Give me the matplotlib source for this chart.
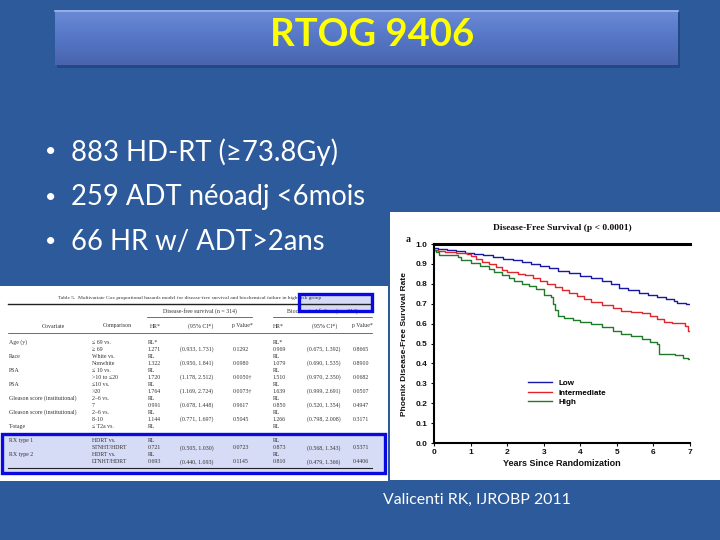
import numpy as np
import matplotlib
matplotlib.use("Agg")
import matplotlib.pyplot as plt
from matplotlib.patches import Rectangle
from matplotlib.colors import LinearSegmentedColormap

# ---------------- data ----------------
title_text = "RTOG 9406"
bullets = ["883 HD-RT (≥73.8Gy)", "259 ADT néoadj <6mois", "66 HR w/ ADT>2ans"]
citation = "Valicenti RK, IJROBP 2011"

chart_title = "Disease-Free Survival (p < 0.0001)"
groups = ["Low", "Intermediate", "High"]

low_t = [0, 0.1, 0.35, 0.6, 0.85, 1.1, 1.35, 1.6, 1.9, 2.15, 2.4, 2.65, 2.9, 3.15, 3.4, 3.7,
         4.0, 4.3, 4.6, 4.85, 5.05, 5.3, 5.6, 5.85, 6.1, 6.35, 6.55, 6.65, 6.9, 7.0]
low_s = [0.98, 0.975, 0.97, 0.965, 0.955, 0.95, 0.945, 0.935, 0.925, 0.92, 0.91, 0.90, 0.89,
         0.88, 0.865, 0.855, 0.84, 0.83, 0.815, 0.80, 0.78, 0.77, 0.755, 0.745, 0.735, 0.725,
         0.715, 0.705, 0.70, 0.70]

int_t = [0, 0.1, 0.3, 0.6, 0.9, 1.0, 1.15, 1.3, 1.5, 1.7, 1.85, 2.0, 2.3, 2.5, 2.7, 2.9, 3.1,
         3.3, 3.5, 3.7, 3.9, 4.1, 4.3, 4.6, 4.9, 5.1, 5.4, 5.7, 5.9, 6.1, 6.3, 6.5, 6.85, 6.95, 7.0]
int_s = [0.97, 0.965, 0.96, 0.955, 0.95, 0.94, 0.925, 0.91, 0.90, 0.885, 0.87, 0.86, 0.85,
         0.845, 0.83, 0.815, 0.80, 0.785, 0.77, 0.755, 0.74, 0.725, 0.71, 0.695, 0.68, 0.665,
         0.66, 0.655, 0.64, 0.625, 0.61, 0.605, 0.59, 0.565, 0.565]

high_t = [0, 0.05, 0.15, 0.65, 0.75, 1.0, 1.25, 1.5, 1.65, 1.85, 2.05, 2.2, 2.4, 2.6, 2.8, 3.0,
          3.2, 3.25, 3.3, 3.4, 3.55, 3.8, 4.0, 4.3, 4.6, 4.9, 5.1, 5.4, 5.7, 5.9, 6.1, 6.15,
          6.6, 6.8, 6.95, 7.0]
high_s = [0.97, 0.96, 0.945, 0.935, 0.92, 0.905, 0.89, 0.875, 0.86, 0.845, 0.83, 0.815, 0.80,
          0.79, 0.775, 0.745, 0.735, 0.70, 0.67, 0.64, 0.63, 0.62, 0.61, 0.60, 0.585, 0.565,
          0.55, 0.54, 0.525, 0.51, 0.495, 0.445, 0.44, 0.425, 0.42, 0.42]

x_ticks = [0, 1, 2, 3, 4, 5, 6, 7]
y_ticks = [0.0, 0.1, 0.2, 0.3, 0.4, 0.5, 0.6, 0.7, 0.8, 0.9, 1.0]

# table
tbl_title = ("Table 5.  Multivariate Cox proportional hazards model for disease-free survival "
             "and biochemical failure in high-risk group")
tbl_groups = ["Disease-free survival (n = 314)", "Biochemical failure (n = 314)"]
tbl_headers = ["Covariate", "Comparison", "HR*", "(95% CI*)", "p Value*", "HR*", "(95% CI*)", "p Value*"]
covariate = ["Age (y)", "", "Race", "", "PSA", "", "PSA", "", "Gleason score (institutional)", "",
             "Gleason score (institutional)", "", "T-stage", "", "RX type 1", "", "RX type 2", ""]
comparison = ["≤ 69 vs.", "≥ 69", "White vs.", "Nonwhite", "≤ 10 vs.", ">10 to ≤20", "≤10 vs.",
              ">20", "2–6 vs.", "7", "2–6 vs.", "8–10", "≤ T2a vs.", "", "HDRT vs.",
              "STNHT/HDRT", "HDRT vs.", "LTNHT/HDRT"]
hr_dfs = ["RL*", "1.271", "RL", "1.322", "RL", "1.720", "RL", "1.764", "RL", "0.991", "RL",
          "1.144", "RL", "", "RL", "0.721", "RL", "0.693"]
ci_dfs = ["", "(0.933, 1.731)", "", "(0.950, 1.841)", "", "(1.178, 2.512)", "", "(1.169, 2.724)",
          "", "(0.678, 1.448)", "", "(0.771, 1.697)", "", "", "", "(0.505, 1.030)", "",
          "(0.440, 1.093)"]
p_dfs = ["", "0.1292", "", "0.0980", "", "0.0050†", "", "0.0073†", "", "0.9617", "", "0.5045",
         "", "", "", "0.0723", "", "0.1145"]
hr_bf = ["RL*", "0.969", "RL", "1.079", "RL", "1.510", "RL", "1.639", "RL", "0.850", "RL",
         "1.266", "RL", "", "RL", "0.873", "RL", "0.810"]
ci_bf = ["", "(0.675, 1.392)", "", "(0.690, 1.535)", "", "(0.970, 2.350)", "", "(0.999, 2.691)",
         "", "(0.520, 1.354)", "", "(0.798, 2.008)", "", "", "", "(0.568, 1.343)", "",
         "(0.479, 1.366)"]
p_bf = ["", "0.8665", "", "0.8900", "", "0.0682", "", "0.0507", "", "0.4947", "", "0.3171",
        "", "", "", "0.5371", "", "0.4406"]

# ---------------- figure ----------------
W, H = 720, 540
fig = plt.figure(figsize=(7.2, 5.4), dpi=100)
BG = "#2d5a9b"
fig.patch.set_facecolor(BG)

bg = fig.add_axes([0, 0, 1, 1])
bg.set_xlim(0, W)
bg.set_ylim(H, 0)
bg.axis("off")

# title bar
grad = np.linspace(0, 1, 100).reshape(-1, 1)
cmap = LinearSegmentedColormap.from_list("bar", ["#6b8ad6", "#5577c6", "#4a64ae"])
bg.add_patch(Rectangle((57, 12), 623, 56, facecolor="#1d3f75", edgecolor="none", alpha=0.6, zorder=1))
bg.imshow(grad, cmap=cmap, aspect="auto", extent=[55, 678, 65, 10], zorder=2)
bg.plot([55, 678], [10.8, 10.8], color="#9db4ec", lw=1.2, zorder=3)
bg.text(372, 35, title_text, color="#ffff00", fontsize=27.5, fontweight="bold",
        family=["Lato", "DejaVu Sans"], ha="center", va="center", zorder=4)

# bullets
for i, b in enumerate(bullets):
    y = 152 + i * 45
    bg.text(45, y, "•", color="white", fontsize=14, family=["Lato", "DejaVu Sans"],
            ha="left", va="center")
    bg.text(71, y, b, color="white", fontsize=19.8, family=["Lato", "DejaVu Sans"],
            ha="left", va="center")

# citation
bg.text(383, 500, citation, color="white", fontsize=11.4, family=["Lato", "DejaVu Sans"],
        ha="left", va="center")

# ---------------- table ----------------
bg.add_patch(Rectangle((0, 286), 388, 195, facecolor="white", edgecolor="none", zorder=1))
# highlight fills (behind text)
bg.add_patch(Rectangle((1.5, 434), 383, 39, facecolor="#d6dbf6", edgecolor="none", zorder=2))
bg.add_patch(Rectangle((298.5, 293.5), 73, 17, facecolor="#d6dbf6", edgecolor="none", zorder=2))

tc = "#333333"
tf = dict(family=["Liberation Serif", "DejaVu Serif"], color=tc, zorder=3)
bg.text(190, 298, tbl_title, fontsize=3.9, ha="center", va="center", **tf)
bg.plot([8, 372], [303.5, 303.5], color="#222", lw=1.0, zorder=3)
bg.text(200, 311, tbl_groups[0], fontsize=4.2, ha="center", va="center", **tf)
bg.text(322, 311, tbl_groups[1], fontsize=4.2, ha="center", va="center", **tf)
bg.plot([147, 252], [317, 317], color="#333", lw=0.5, zorder=3)
bg.plot([273, 372], [317, 317], color="#333", lw=0.5, zorder=3)
hx = [53, 117, 155, 201, 242, 278, 325, 362]
for x, h in zip(hx, tbl_headers):
    bg.text(x, 326, h, fontsize=4.2, ha="center", va="center", **tf)
bg.plot([8, 372], [333, 333], color="#333", lw=0.5, zorder=3)
cols = [(9, covariate), (92, comparison), (148, hr_dfs), (180, ci_dfs), (233, p_dfs),
        (273, hr_bf), (307, ci_bf), (353, p_bf)]
for r in range(len(covariate)):
    y = 342 + r * 7.05
    for x, col in cols:
        if col[r]:
            bg.text(x, y, col[r], fontsize=4.2, ha="left", va="center", **tf)
bg.plot([8, 372], [468, 468], color="#222", lw=0.8, zorder=6)

# highlight borders
bg.add_patch(Rectangle((1.5, 434), 383, 39, facecolor="none", edgecolor="#0a0ae0",
                       lw=2.4, zorder=7))
bg.add_patch(Rectangle((298.5, 293.5), 73, 17, facecolor="none", edgecolor="#0a0ae0",
                       lw=2.4, zorder=7))

# ---------------- chart panel ----------------
bg.add_patch(Rectangle((390, 212), 330, 268, facecolor="white", edgecolor="none", zorder=1))
bg.text(562, 228, chart_title, fontsize=6.8, fontweight="bold",
        family=["Liberation Serif", "DejaVu Serif"], ha="center", va="center", color="#111", zorder=3)
bg.text(408, 239, "a", fontsize=7, fontweight="bold",
        family=["Liberation Serif", "DejaVu Serif"], ha="center", va="center", color="#111", zorder=3)

ax = fig.add_axes([434 / W, 1 - 443 / H, (690 - 434) / W, (443 - 244) / H])
ax.set_facecolor("none")
colors = ["#1818a8", "#e0262a", "#1f7a2a"]
for (t, s), c, lab in zip([(low_t, low_s), (int_t, int_s), (high_t, high_s)], colors, groups):
    ax.step(t, s, where="post", color=c, lw=1.0, label=lab)
ax.set_xlim(0, 7)
ax.set_ylim(0, 1.0)
ax.set_xticks(x_ticks)
ax.set_yticks(y_ticks)
ax.set_yticklabels([f"{v:.1f}" for v in y_ticks])
for lbl in ax.get_xticklabels() + ax.get_yticklabels():
    lbl.set_fontweight("bold")
    lbl.set_fontfamily(["Liberation Sans", "DejaVu Sans"])
ax.tick_params(axis="both", labelsize=6, length=2.5, width=0.8, pad=2, colors="#111")
ax.spines["right"].set_visible(False)
ax.spines["top"].set_linewidth(2.2)
ax.spines["left"].set_linewidth(1.5)
ax.spines["bottom"].set_linewidth(1.5)
ax.set_xlabel("Years Since Randomization", fontsize=6.5, fontweight="bold",
              family=["Liberation Sans", "DejaVu Sans"], labelpad=2, color="#111")
ax.set_ylabel("Phoenix Disease-Free Survival Rate", fontsize=6, fontweight="bold",
              family=["Liberation Sans", "DejaVu Sans"], labelpad=6, color="#111")
leg = ax.legend(loc="upper left", bbox_to_anchor=(0.35, 0.34), frameon=False,
                prop={"family": ["Liberation Sans", "DejaVu Sans"], "weight": "bold", "size": 5.8},
                handlelength=3.0, handletextpad=0.8, labelspacing=0.25, borderpad=0)

fig.savefig("out.png", dpi=100, facecolor=BG)
